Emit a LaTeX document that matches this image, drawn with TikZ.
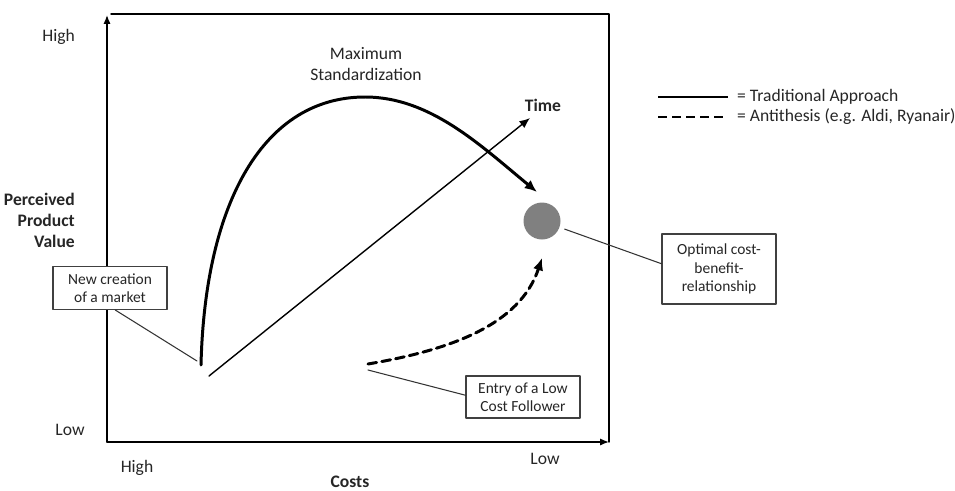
\documentclass[tikz,border=0pt]{standalone}
\usepackage{fontspec}
\setmainfont{Carlito}
\usepackage{tikz}
\usetikzlibrary{positioning}
\usetikzlibrary{calc}
\usetikzlibrary{arrows.meta, positioning}

\begin{document}
\begin{tikzpicture}[line cap=round, line join=round,
    every node/.style={font=\fontsize{10}{12}\selectfont, text=black!85},
    labelbox/.style={draw=black!75, fill=white, line width=0.6pt, align=center, minimum width=2.28cm, inner sep=3pt,
        font=\fontsize{8.8}{10.4}\selectfont},
    pointer/.style={draw=black!80, line width=0.6pt},
    axis/.style={line width=0.8pt, -{Latex[length=5pt, width=4pt]}},
    trad/.style={line width=1.7pt},
    anti/.style={line width=1.7pt, dash pattern=on 5pt off 3pt}]
            \useasboundingbox (0,0) rectangle (19.1,9.8);

            % origin and frame corners
            \coordinate (O) at (2.14,0.96);
            \coordinate (YT) at (2.14,9.5);
            \coordinate (TL) at (2.22,9.52);
            \coordinate (TR) at (12.18,9.52);
            \coordinate (BR) at (12.18,0.96);

            % axes
            \draw[axis] (O) -- (YT);
            \draw[axis] (O) -- (BR);
            \draw[line width=0.8pt] (TL) -- (TR) -- (BR);

            % axis labels
            \node[anchor=east] (vhigh) at (1.62,9.06) {High};
            \node (vlow) at (1.4,1.2) {Low};
            \node[anchor=east, align=right, font=\bfseries\fontsize{10}{12}\selectfont] (vlabel) at (1.62,5.4) {Perceived\\Product\\Value};
            \node (chigh) at (2.74,0.44) {High};
            \node (clow) at (10.9,0.62) {Low};
            \node[font=\bfseries\fontsize{10}{12}\selectfont] (clabel) at (7.0,0.16) {Costs};

            % traditional approach curve
            \coordinate (start) at (4.02,2.5);
            \coordinate (peak) at (7.3,7.86);
            \coordinate (opt) at (10.74,5.96);
            \draw[trad, -{Latex[length=7pt, width=6pt]}] (start) .. controls (4.1,5.8) and (5.3,7.86) .. (peak)
                .. controls (8.6,7.86) and (9.6,6.9) .. (opt);
            \node[align=center] (maxstd) at (7.32,8.52) {Maximum\\Standardization};

            % time arrow
            \coordinate (t0) at (4.18,2.28);
            \coordinate (t1) at (10.6,7.44);
            \draw[line width=0.8pt, -{Latex[length=6pt, width=5pt]}] (t0) -- (t1);
            \node[font=\bfseries\fontsize{10}{12}\selectfont] (time) at (10.86,7.7) {Time};

            % optimum point
            \node[circle, fill=black!50, minimum size=0.74cm, inner sep=0pt] (dot) at (10.84,5.38) {};

            % antithesis curve
            \coordinate (lowstart) at (7.36,2.52);
            \coordinate (lowend) at (10.84,4.64);
            \draw[anti, -{Latex[length=7pt, width=6pt]}] (lowstart) .. controls (9.0,2.8) and (10.4,3.3) .. (lowend);

            % annotation boxes
            \node[labelbox, minimum height=0.86cm] (newbox) at (2.2,4.04) {New creation\\of a market};
            \node[labelbox, minimum height=1.4cm] (optbox) at (14.38,4.42) {Optimal cost-\\benefit-\\relationship};
            \node[labelbox, minimum height=0.84cm] (entrybox) at (10.46,1.86) {Entry of a Low\\Cost Follower};

            % pointers
            \coordinate (mkt) at (3.94,2.58);
            \coordinate (lcf) at (7.36,2.4);
            \draw[pointer] ([xshift=3pt]newbox.south) -- (mkt);
            \draw[pointer, shorten <=3pt] (dot) -- ([yshift=3pt]optbox.west);
            \draw[pointer] (lcf) -- ([yshift=1pt]entrybox.west);

            % legend
            \coordinate (l1a) at (13.16,7.86);
            \coordinate (l1b) at (14.56,7.86);
            \coordinate (l2a) at (13.16,7.46);
            \coordinate (l2b) at (14.56,7.46);
            \draw[trad, line cap=butt] (l1a) -- (l1b);
            \draw[anti, line cap=butt] (l2a) -- (l2b);
            \node[anchor=west] (tradtxt) at (14.62,7.86) {= Traditional Approach};
            \node[anchor=west] (antitxt) at (14.62,7.46) {= Antithesis (e.g. Aldi, Ryanair)};
        \end{tikzpicture}
\end{document}
